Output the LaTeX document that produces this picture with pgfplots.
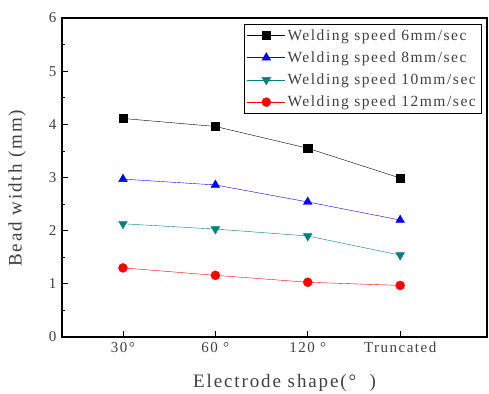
\documentclass[border=0pt]{standalone}
\usepackage{pgfplots}
\pgfplotsset{compat=1.18}
\usepackage{fontspec}
\setmainfont{Liberation Serif}[LetterSpace=10]
\definecolor{tealc}{RGB}{0,128,128}
\begin{document}
\begin{tikzpicture}
\begin{axis}[
  name=ax, scale only axis, width=425pt, height=319pt,
  xmin=-0.66, xmax=3.94, ymin=0, ymax=6,
  xtick={0,1,2,3}, xticklabels={30°, 60 °, 120 °, Truncated},
  ytick={0,1,2,3,4,5,6}, minor y tick num=1,
  tick pos=left, tick align=inside,
  major tick length=6pt, minor tick length=3pt,
  axis line style={line width=1.2pt},
  tick style={black, line width=0.8pt},
  ticklabel style={font=\fontsize{15}{17}\selectfont, text=black!75},
  yticklabel style={xshift=-2pt},
  xticklabel style={yshift=-2pt},
  /pgf/number format/assume math mode=true,
  xlabel={Electrode shape(°\ \ )}, ylabel={Bead width (mm)},
  label style={font=\fontsize{19}{21}\selectfont, text=black!75},
  xlabel style={at={(axis description cs:0.5235,-0.144)}, anchor=center},
  ylabel style={at={(axis description cs:-0.106,0.466)}, anchor=center, rotate=0},
  legend style={at={(0.986,0.981)}, anchor=north east, draw=black,
    font=\fontsize{15.5}{18}\selectfont, text=black!75, row sep=6pt,
    inner ysep=3pt},
  legend cell align=left,
  legend image code/.code={\draw[mark repeat=2,mark phase=2] plot coordinates {(0pt,0pt) (19pt,0pt) (38pt,0pt)};},
]
\addplot[black, mark=square*, mark size=4.2pt, mark options={solid}] coordinates {(0,4.11) (1,3.96) (2,3.55) (3,2.99)};
\addlegendentry{Welding speed 6mm/sec}
\addplot[blue, mark=triangle*, mark size=5pt, mark options={solid}] coordinates {(0,2.97) (1,2.86) (2,2.54) (3,2.20)};
\addlegendentry{Welding speed 8mm/sec}
\addplot[tealc, mark=triangle*, mark size=5pt, mark options={solid, rotate=180}] coordinates {(0,2.13) (1,2.03) (2,1.90) (3,1.54)};
\addlegendentry{Welding speed 10mm/sec}
\addplot[red, mark=*, mark size=4.5pt, mark options={solid}] coordinates {(0,1.30) (1,1.16) (2,1.03) (3,0.97)};
\addlegendentry{Welding speed 12mm/sec}
\end{axis}
\pgfresetboundingbox
\path (ax.south west) ++(-62pt,-56pt) rectangle ++(489pt,393pt);
\end{tikzpicture}
\end{document}
